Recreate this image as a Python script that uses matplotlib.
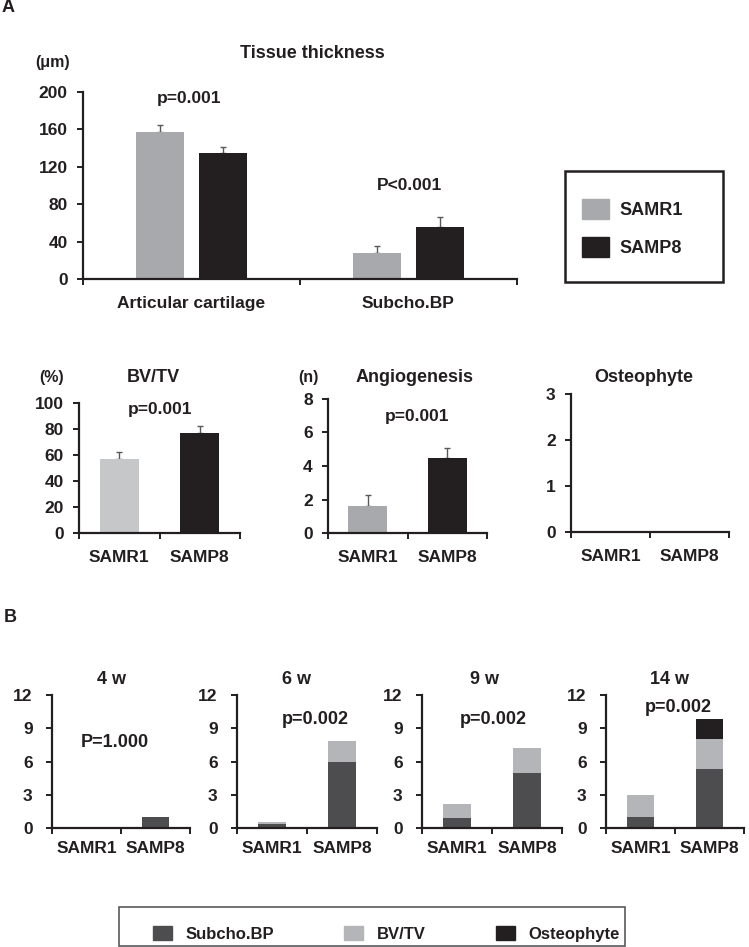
import matplotlib
matplotlib.use("Agg")
import matplotlib.pyplot as plt
from matplotlib.patches import Patch, Rectangle

plt.rcParams['font.family'] = ['Liberation Sans', 'DejaVu Sans']
plt.rcParams['font.weight'] = 'bold'

# ---- data ----
sites = ['Articular cartilage', 'Subcho.BP']
thick_r1 = [157, 28]
thick_r1_sd = [8, 7]
thick_p8 = [135, 56]
thick_p8_sd = [6, 10]
thick_p = ['p=0.001', 'P<0.001']

strains = ['SAMR1', 'SAMP8']
bvtv = [57, 77]
bvtv_sd = [5, 5]
angio = [1.6, 4.5]
angio_sd = [0.65, 0.6]
osteo = [0, 0]

weeks = ['4 w', '6 w', '9 w', '14 w']
week_p = ['P=1.000', 'p=0.002', 'p=0.002', 'p=0.002']
subcho_r1 = [0, 0.35, 0.9, 1.0]
subcho_p8 = [1.0, 6.0, 5.0, 5.3]
bv_r1 = [0, 0.15, 1.3, 2.0]
bv_p8 = [0, 1.85, 2.2, 2.7]
ost_r1 = [0, 0, 0, 0]
ost_p8 = [0, 0, 0, 1.8]

# ---- style ----
INK = '#231f20'
GREY = '#a7a9ac'
LIGHT = '#c6c7c9'
C_SUB = '#4d4d4f'
C_BV = '#b3b5b8'
C_OST = '#231f20'
ERR = '#58595b'

W, H = 749, 947
fig = plt.figure(figsize=(W / 100, H / 100), dpi=100)


def add_ax(l, t, r, b):
    return fig.add_axes([l / W, 1 - b / H, (r - l) / W, (b - t) / H])


def ftext(x, y, s, size=12, ha='center'):
    fig.text(x / W, 1 - y / H, s, ha=ha, va='center', fontsize=size,
             fontweight='bold', color=INK)


def style_ax(ax, ymax, yticks, fs, pad_lab):
    ax.set_xlim(0, 2)
    ax.set_ylim(0, ymax)
    for s in ['top', 'right']:
        ax.spines[s].set_visible(False)
    for s in ['left', 'bottom']:
        ax.spines[s].set_linewidth(1.6)
        ax.spines[s].set_color(INK)
    ax.set_yticks(yticks)
    ax.tick_params(axis='y', direction='out', length=4, width=1.4,
                   color=INK, labelsize=fs, pad=7, labelcolor=INK)
    ax.set_xticks([0, 1, 2], minor=True)
    ax.tick_params(axis='x', which='minor', direction='out', length=4,
                   width=1.4, color=INK)
    ax.tick_params(axis='x', which='major', length=0, labelsize=fs,
                   pad=pad_lab, labelcolor=INK)
    for lab in ax.get_yticklabels() + ax.get_xticklabels():
        lab.set_fontweight('bold')


# ---- A: tissue thickness ----
ax = add_ax(83, 92, 517, 279)
xs = [0.5, 1.5]
off, bw = 0.143, 0.221
ax.errorbar([x - off for x in xs], thick_r1, yerr=[[0, 0], thick_r1_sd],
            fmt='none', ecolor=ERR, elinewidth=1, capsize=2.5, zorder=1)
ax.errorbar([x + off for x in xs], thick_p8, yerr=[[0, 0], thick_p8_sd],
            fmt='none', ecolor=ERR, elinewidth=1, capsize=2.5, zorder=1)
ax.bar([x - off for x in xs], thick_r1, bw, color=GREY, zorder=2, label='SAMR1')
ax.bar([x + off for x in xs], thick_p8, bw, color=INK, zorder=2, label='SAMP8')
style_ax(ax, 200, [0, 40, 80, 120, 160, 200], 12.5, 12)
ax.set_xticks(xs)
ax.set_xticklabels(sites, fontweight='bold')

ftext(8, 8, 'A', 13)
ftext(312, 53, 'Tissue thickness', 13)
ftext(53, 63, '(μm)', 11.5)
ftext(189, 99, thick_p[0], 12.5)
ftext(409, 185, thick_p[1], 12.5)

fig.patches.append(Rectangle((565 / W, 1 - 282 / H), 158 / W, 111 / H,
                             transform=fig.transFigure, fill=False,
                             edgecolor=INK, linewidth=1.8))
fig.legend(handles=[Patch(color=GREY, label='SAMR1'), Patch(color=INK, label='SAMP8')],
           loc='center left', bbox_to_anchor=(582 / W, 1 - 228 / H), frameon=False,
           prop={'size': 13, 'weight': 'bold'}, handlelength=1.5, handleheight=1.3,
           handletextpad=0.6, labelspacing=1.0, borderpad=0, borderaxespad=0,
           labelcolor=INK)

# ---- A: BV/TV, angiogenesis, osteophyte ----
bw2 = 0.485
ax = add_ax(79, 403, 240, 533)
ax.errorbar(xs, bvtv, yerr=[[0, 0], bvtv_sd], fmt='none', ecolor=ERR,
            elinewidth=1, capsize=2.5, zorder=1)
ax.bar(xs, bvtv, bw2, color=[LIGHT, INK], zorder=2)
style_ax(ax, 100, [0, 20, 40, 60, 80, 100], 12.5, 12)
ax.set_xticks(xs)
ax.set_xticklabels(strains, fontweight='bold')
ftext(52, 377, '(%)', 11.5)
ftext(153, 377, 'BV/TV', 13)
ftext(160, 409, 'p=0.001', 12.5)

ax = add_ax(328, 399, 487, 533)
ax.errorbar(xs, angio, yerr=[[0, 0], angio_sd], fmt='none', ecolor=ERR,
            elinewidth=1, capsize=2.5, zorder=1)
ax.bar(xs, angio, bw2, color=[GREY, INK], zorder=2)
style_ax(ax, 8, [0, 2, 4, 6, 8], 12.5, 12)
ax.set_xticks(xs)
ax.set_xticklabels(strains, fontweight='bold')
ftext(308, 377, '(n)', 11.5)
ftext(415, 377, 'Angiogenesis', 13)
ftext(417, 416, 'p=0.001', 12.5)

ax = add_ax(571, 394, 729, 532)
ax.bar(xs, osteo, bw2, color=[GREY, INK], zorder=2)
style_ax(ax, 3, [0, 1, 2, 3], 12.5, 12)
ax.set_xticks(xs)
ax.set_xticklabels(strains, fontweight='bold')
ftext(644, 377, 'Osteophyte', 13)

# ---- B: weekly scores ----
ftext(10, 618, 'B', 13)
panels = [(52, 190), (237, 377), (422, 562), (606, 744)]
title_x = [112, 297, 485, 670]
p_pos = [(115, 742), (315, 720), (493, 720), (678, 707)]
bw3 = 0.4
for i, (l, r) in enumerate(panels):
    ax = add_ax(l, 695, r, 828)
    sub = [subcho_r1[i], subcho_p8[i]]
    bv = [bv_r1[i], bv_p8[i]]
    ost = [ost_r1[i], ost_p8[i]]
    ax.bar(xs, sub, bw3, color=C_SUB, zorder=2)
    ax.bar(xs, bv, bw3, bottom=sub, color=C_BV, zorder=2)
    ax.bar(xs, ost, bw3, bottom=[a + b for a, b in zip(sub, bv)], color=C_OST, zorder=2)
    style_ax(ax, 12, [0, 3, 6, 9, 12], 12.5, 9)
    ax.tick_params(axis='y', pad=10)
    ax.set_xticks(xs)
    ax.set_xticklabels(strains, fontweight='bold')
    ftext(title_x[i], 679, weeks[i], 13)
    ftext(p_pos[i][0], p_pos[i][1], week_p[i], 13)

fig.patches.append(Rectangle((119 / W, 1 - 946 / H), 506 / W, 39 / H,
                             transform=fig.transFigure, fill=False,
                             edgecolor='#58595b', linewidth=1.2))
fig.legend(handles=[Patch(color=C_SUB, label='Subcho.BP'),
                    Patch(color=C_BV, label='BV/TV'),
                    Patch(color=C_OST, label='Osteophyte')],
           loc='center left', bbox_to_anchor=(153 / W, 1 - 934 / H), frameon=False,
           ncol=3, prop={'size': 12, 'weight': 'bold'}, handlelength=1.15,
           handleheight=0.9, handletextpad=0.8, columnspacing=4.2, borderpad=0,
           borderaxespad=0, labelcolor=INK)

fig.savefig('out.png', dpi=100, facecolor='white')
